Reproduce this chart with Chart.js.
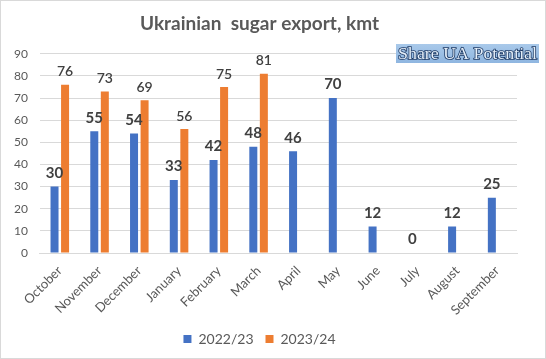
<!DOCTYPE html>
<html lang="en">
<head>
<meta charset="UTF-8">
<title>Ukrainian sugar export</title>
<script src="https://cdn.jsdelivr.net/npm/chart.js"></script>
<style>
    body { margin: 0; background: #fff; }
    #wrap { width: 546px; height: 359px; }
</style>
</head>
<body>
<div id="wrap"><canvas id="c" width="546" height="359"></canvas></div>
<script>
const months = ['October', 'November', 'December', 'January', 'February', 'March',
                'April', 'May', 'June', 'July', 'August', 'September'];
const season2223 = [30, 55, 54, 33, 42, 48, 46, 70, 12, 0, 12, 25];
const season2324 = [76, 73, 69, 56, 75, 81, null, null, null, null, null, null];
const yTicks = [0, 10, 20, 30, 40, 50, 60, 70, 80, 90];

const FONT = 'Lato, "Open Sans", sans-serif';

// white background + thin frame
const framePlugin = {
    id: 'frame',
    beforeDraw(chart) {
        const ctx = chart.ctx;
        ctx.save();
        ctx.fillStyle = '#fff';
        ctx.fillRect(0, 0, chart.width, chart.height);
        ctx.strokeStyle = '#d9d9d9';
        ctx.lineWidth = 1;
        ctx.strokeRect(0.5, 0.5, chart.width - 1, chart.height - 1);
        ctx.restore();
    }
};

// value labels above bars
const valueLabels = {
    id: 'valueLabels',
    afterDatasetsDraw(chart) {
        const ctx = chart.ctx;
        ctx.save();
        ctx.textAlign = 'center';
        ctx.textBaseline = 'bottom';
        chart.data.datasets.forEach((ds, i) => {
            const meta = chart.getDatasetMeta(i);
            ctx.font = (i === 0 ? 'bold 15px ' : '600 14px ') + FONT;
            ctx.fillStyle = '#404040';
            meta.data.forEach((bar, j) => {
                const v = ds.data[j];
                if (v === null) return;
                ctx.fillText(String(v), bar.x, bar.y - 6);
            });
        });
        ctx.restore();
    }
};

// "Share UA Potential" stamp in the top right
const stamp = {
    id: 'stamp',
    afterDraw(chart) {
        const ctx = chart.ctx;
        const x = 396, y = 44, w = 143, h = 19;
        ctx.save();
        const g = ctx.createLinearGradient(x, y, x, y + h);
        g.addColorStop(0, '#a9c9ea');
        g.addColorStop(1, '#8fb6e0');
        ctx.fillStyle = g;
        ctx.fillRect(x, y, w, h);
        ctx.font = '17px "Liberation Serif", "DejaVu Serif", serif';
        ctx.textBaseline = 'middle';
        ctx.textAlign = 'left';
        const txt = 'Share UA Potential';
        const tw = ctx.measureText(txt).width;
        ctx.translate(x + 2, y + h / 2 + 1);
        ctx.scale((w - 4) / tw, 1);
        ctx.lineWidth = 1.6;
        ctx.strokeStyle = '#1f3b66';
        ctx.strokeText(txt, 0, 0);
        ctx.fillStyle = '#e6f0fa';
        ctx.fillText(txt, 0, 0);
        ctx.restore();
    }
};

new Chart(document.getElementById('c'), {
    type: 'bar',
    data: {
        labels: months,
        datasets: [
            {
                label: '2022/23',
                data: season2223,
                backgroundColor: '#4472C4',
                categoryPercentage: 0.53,
                barPercentage: 0.76
            },
            {
                label: '2023/24',
                data: season2324,
                backgroundColor: '#ED7D31',
                categoryPercentage: 0.53,
                barPercentage: 0.76
            }
        ]
    },
    options: {
        responsive: false,
        animation: false,
        layout: { padding: { top: 6, left: 2, right: 29, bottom: 3 } },
        plugins: {
            title: {
                display: true,
                text: 'Ukrainian  sugar export, kmt',
                color: '#595959',
                font: { family: FONT, size: 19, weight: 'bold' },
                padding: { top: 6, bottom: 19 }
            },
            legend: {
                position: 'bottom',
                labels: {
                    color: '#595959',
                    font: { family: FONT, size: 14 },
                    boxWidth: 8,
                    boxHeight: 8,
                    padding: 12
                }
            },
            tooltip: { enabled: false }
        },
        scales: {
            x: {
                grid: { display: false },
                border: { color: '#d9d9d9' },
                ticks: {
                    color: '#595959',
                    font: { family: FONT, size: 13 },
                    maxRotation: 45,
                    minRotation: 45,
                    padding: 2
                }
            },
            y: {
                min: 0,
                max: 90,
                afterBuildTicks(axis) {
                    axis.ticks = yTicks.map(v => ({ value: v }));
                },
                grid: { color: '#d9d9d9', drawTicks: false },
                border: { display: false },
                ticks: {
                    color: '#595959',
                    font: { family: FONT, size: 12 },
                    padding: 12
                }
            }
        }
    },
    plugins: [framePlugin, valueLabels, stamp]
});
</script>
</body>
</html>
